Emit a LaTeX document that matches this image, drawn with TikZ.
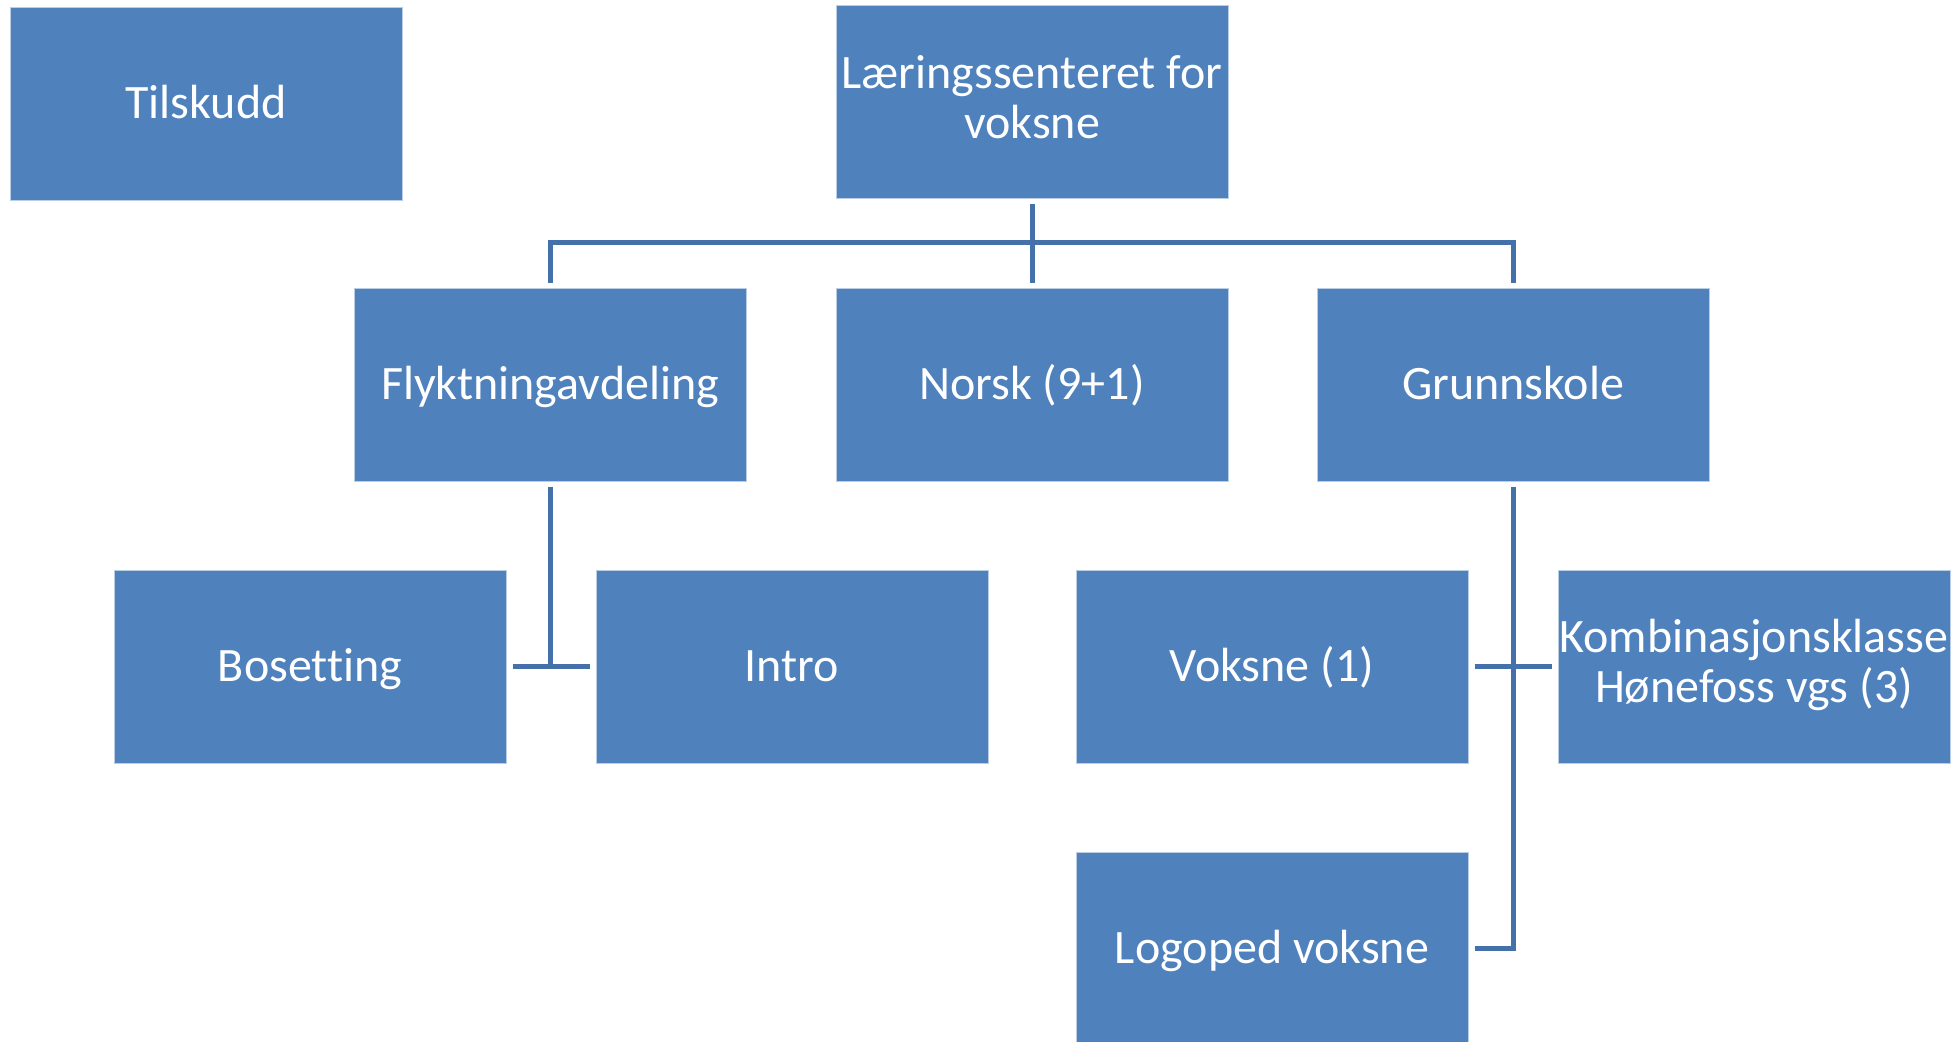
\documentclass[tikz,border=0pt]{standalone}
\usepackage{fontspec}
\setmainfont{Carlito}[Ligatures=NoCommon]
\usepackage{tikz}

\definecolor{boxblue}{HTML}{4F81BD}
\definecolor{boxedge}{HTML}{B9CDE5}
\definecolor{linkblue}{HTML}{4571AA}

\newcommand{\boxstrut}{\rule[-5.25pt]{0pt}{25pt}}

\tikzset{
  unit/.style={draw=boxedge, line width=0.5pt, fill=boxblue, text=white,
    minimum width=196pt, minimum height=96.5pt, inner sep=0pt, align=center,
    font=\fontsize{24}{25}\selectfont,
    execute at begin node=\boxstrut, execute at end node=\boxstrut},
  link/.style={draw=linkblue, line width=2.5pt}
}

\begin{document}
\begin{tikzpicture}[x=0.5pt,y=-0.5pt,node distance=241pt]
      \useasboundingbox (0,0) rectangle (1959,1041);

      \node [unit] (top) at (1032,102) {Læringssenteret for\\voksne};
      \node [unit] (tilsk) at (206,103.5) {Tilskudd};

      \node [unit,below of=top,yshift=99.75pt] (norsk) {Norsk (9+1)};
      \node [unit,left of=norsk] (flykt) {Flyktningavdeling};
      \node [unit,right of=norsk,xshift=-0.5pt] (grunn) {Grunnskole};

      \node [unit,below of=flykt,yshift=100pt,xshift=121pt] (intro) {Intro};
      \node [unit,left of=intro] (boset) {Bosetting};
      \node [unit,right of=intro,xshift=-1pt] (voksne) {Voksne (1)};
      \node [unit,right of=voksne] (komb) {Kombinasjonsklasse\\Hønefoss vgs (3)};
      \node [unit,below of=voksne,yshift=100pt] (logo) {Logoped voksne};

      \draw[link] ([yshift=-2.5pt]top.south) -- ([yshift=2.5pt]norsk.north);
      \draw[link] ([yshift=2.5pt]flykt.north) -- ++(0,20pt) -| ([yshift=2.5pt]grunn.north);

      \draw[link] ([yshift=-2.5pt]flykt.south) -- (flykt.south |- boset.east);
      \draw[link] ([xshift=3pt]boset.east) -- ([xshift=-3pt]intro.west);

      \draw[link] ([xshift=3pt]voksne.east) -- ([xshift=-3pt]komb.west);
      \draw[link] ([yshift=-2.5pt]grunn.south) |- ([xshift=3pt]logo.east);
    \end{tikzpicture}
\end{document}
